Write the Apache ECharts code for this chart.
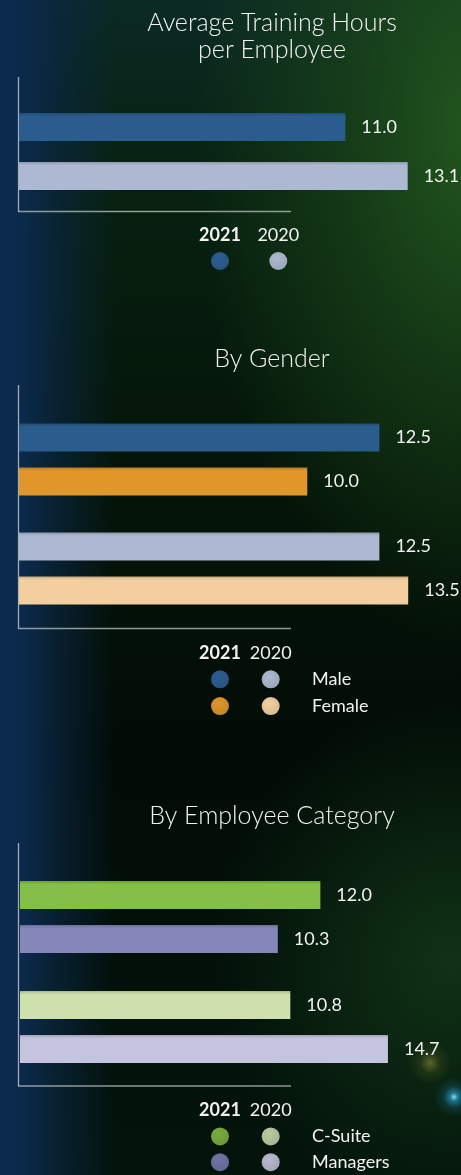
<!DOCTYPE html>
<html>
<head>
<meta charset="utf-8">
<script src="https://cdn.jsdelivr.net/npm/echarts@6/dist/echarts.min.js"></script>
<style>
html, body { margin: 0; padding: 0; }
body {
  width: 461px; height: 1175px; overflow: hidden;
  background:
    radial-gradient(circle at 454px 1097px, rgba(140,235,255,0.95) 0px, rgba(40,170,225,0.6) 4px, rgba(30,140,200,0.18) 11px, rgba(30,140,200,0) 20px),
    radial-gradient(circle at 430px 1063px, rgba(190,175,70,0.45) 0px, rgba(150,140,50,0.15) 10px, rgba(150,140,50,0) 22px),
    linear-gradient(to right, #0b2b4d 0px, #0b2a4b 22px, rgba(10,38,66,0.65) 60px, rgba(8,30,50,0) 115px),
    radial-gradient(ellipse 280px 520px at 475px 130px, rgba(34,86,30,1) 0%, rgba(28,72,26,0.65) 45%, rgba(20,50,20,0) 100%),
    radial-gradient(ellipse 240px 260px at 450px 960px, rgba(22,64,28,0.7), rgba(22,64,28,0) 100%),
    linear-gradient(to bottom, #0b2a24 0px, #072010 200px, #041408 500px, #020c06 750px, #03140b 1175px);
}
#chart { width: 461px; height: 1175px; }
</style>
</head>
<body>
<div id="chart"></div>
<script>
// ---- data ----
const years = ['2021', '2020'];
const avgHours = [11.0, 13.1];            // 2021, 2020
const genders = ['Male', 'Female'];
const maleHours = [12.5, 12.5];           // 2021, 2020
const femaleHours = [10.0, 13.5];         // 2021, 2020
const empCategories = ['C-Suite', 'Managers'];
const csuiteHours = [12.0, 10.8];         // 2021, 2020
const managerHours = [10.3, 14.7];        // 2021, 2020
const titles = ['Average Training Hours\nper Employee', 'By Gender', 'By Employee Category'];

// ---- colours ----
const avgColors = ['#2a5c8e', '#adb9d3'];
const maleColors = ['#2a5c8e', '#adb9d3'];
const femaleColors = ['#e1962a', '#f3cf9f'];
const csuiteColors = ['#84bf47', '#cde0ae'];
const managerColors = ['#8587b9', '#c5c4de'];
const dotMale = ['#2d5e92', '#aeb9d2'];
const dotFemale = ['#e0962b', '#f2d1a2'];
const dotCsuite = ['#77ac3f', '#b9cb9f'];
const dotManager = ['#7174a5', '#b9b8d1'];

const FONT = 'Lato';
const TXT = '#f2f2f2';

function shade(hex, f) {
  const n = parseInt(hex.slice(1), 16);
  let r = (n >> 16) & 255, g = (n >> 8) & 255, b = n & 255;
  r = Math.round(r * f); g = Math.round(g * f); b = Math.round(b * f);
  return 'rgb(' + r + ',' + g + ',' + b + ')';
}
function barFill(c) {
  return {
    type: 'linear', x: 0, y: 0, x2: 0, y2: 1,
    colorStops: [
      { offset: 0, color: shade(c, 0.82) },
      { offset: 0.12, color: c },
      { offset: 1, color: c }
    ]
  };
}
function dotFill(c) {
  return {
    type: 'radial', x: 0.4, y: 0.35, r: 0.75,
    colorStops: [
      { offset: 0, color: c },
      { offset: 1, color: shade(c, 0.88) }
    ]
  };
}
function barData(values, colors) {
  return values.map((v, i) => ({ value: v, itemStyle: { color: barFill(colors[i]) } }));
}
const valueLabel = {
  show: true, position: 'right', distance: 16,
  color: TXT, fontSize: 18, fontFamily: FONT,
  formatter: p => Number(p.value).toFixed(1)
};

// bar grids (px per unit: 29.67, 28.83, 25.03)
const barMax = [14, 14, 16];
const pxPerUnit = [29.67, 28.83, 25.03];
const barGrids = [
  { left: 19, top: 102.5, height: 98 },
  { left: 19, top: 405, height: 218 },
  { left: 20, top: 862, height: 220 }
].map((g, i) => Object.assign(g, { width: barMax[i] * pxPerUnit[i] }));
// legend grids
const legGrids = [
  { left: 190.85, top: 248, width: 116.6, height: 26 },
  { left: 194.65, top: 666, width: 101.4, height: 53.4 },
  { left: 194.65, top: 1123.5, width: 101.4, height: 52.6 }
];

const grid = barGrids.concat(legGrids);

const xAxis = [];
const yAxis = [];
barGrids.forEach((g, i) => {
  xAxis.push({ type: 'value', gridIndex: i, min: 0, max: barMax[i], show: false });
  yAxis.push({ type: 'category', gridIndex: i, data: years, inverse: true, show: false });
});
const legendRows = [[''], genders, empCategories];
legGrids.forEach((g, i) => {
  xAxis.push({
    type: 'category', gridIndex: 3 + i, position: 'top',
    data: years.map((y, k) => k === 0 ? { value: y, textStyle: { fontWeight: 'bold' } } : y),
    axisLine: { show: false }, axisTick: { show: false }, splitLine: { show: false },
    axisLabel: { color: TXT, fontSize: 18, fontFamily: FONT, margin: 4, interval: 0, hideOverlap: false }
  });
  yAxis.push({
    type: 'category', gridIndex: 3 + i, position: 'right', inverse: true,
    data: legendRows[i],
    axisLine: { show: false }, axisTick: { show: false }, splitLine: { show: false },
    axisLabel: { show: i > 0, color: TXT, fontSize: 18, fontFamily: FONT, margin: 16, align: 'left', interval: 0 }
  });
});

function dotSeries(idx, rowColors) {
  const data = [];
  rowColors.forEach((cols, r) => {
    cols.forEach((c, k) => {
      data.push({ value: [k, r], itemStyle: { color: dotFill(c), opacity: 1 } });
    });
  });
  return {
    type: 'scatter', xAxisIndex: 3 + idx, yAxisIndex: 3 + idx,
    symbol: 'circle', symbolSize: 18, data: data, silent: true,
    itemStyle: { opacity: 1 }
  };
}

const series = [
  { type: 'bar', xAxisIndex: 0, yAxisIndex: 0, barWidth: 28,
    data: barData(avgHours, avgColors), label: valueLabel },
  { type: 'bar', name: 'Male', xAxisIndex: 1, yAxisIndex: 1, barWidth: 28, barGap: '57%',
    data: barData(maleHours, maleColors), label: valueLabel },
  { type: 'bar', name: 'Female', xAxisIndex: 1, yAxisIndex: 1, barWidth: 28, barGap: '57%',
    data: barData(femaleHours, femaleColors), label: valueLabel },
  { type: 'bar', name: 'C-Suite', xAxisIndex: 2, yAxisIndex: 2, barWidth: 28, barGap: '57%',
    data: barData(csuiteHours, csuiteColors), label: valueLabel },
  { type: 'bar', name: 'Managers', xAxisIndex: 2, yAxisIndex: 2, barWidth: 28, barGap: '57%',
    data: barData(managerHours, managerColors), label: valueLabel },
  dotSeries(0, [dotMale]),
  dotSeries(1, [dotMale, dotFemale]),
  dotSeries(2, [dotCsuite, dotManager])
];

const titleTops = [8.75, 344.75, 801.75];
const title = titles.map((t, i) => ({
  text: t, left: 272, top: titleTops[i], textAlign: 'center', padding: 0,
  textStyle: { color: TXT, fontSize: 25, fontWeight: 300, fontFamily: FONT, lineHeight: 27.5 }
}));

// decorative axis frames
const frames = [
  { x: 18.5, top: 77, bottom: 211.5, right: 291 },
  { x: 18.5, top: 385, bottom: 628.5, right: 291 },
  { x: 18.5, top: 843, bottom: 1086, right: 291 }
];
const graphicEls = [];
frames.forEach(f => {
  graphicEls.push({ type: 'line', silent: true,
    shape: { x1: f.x, y1: f.top, x2: f.x, y2: f.bottom },
    style: { stroke: 'rgba(200,205,210,0.8)', lineWidth: 1.3 } });
  graphicEls.push({ type: 'line', silent: true,
    shape: { x1: f.x - 0.6, y1: f.bottom, x2: f.right, y2: f.bottom },
    style: { stroke: 'rgba(190,195,195,0.75)', lineWidth: 1.5 } });
});

const chart = echarts.init(document.getElementById('chart'), null, { renderer: 'canvas' });
chart.setOption({
  backgroundColor: 'transparent',
  animation: false,
  title: title,
  grid: grid,
  xAxis: xAxis,
  yAxis: yAxis,
  series: series,
  graphic: { elements: graphicEls }
});
</script>
</body>
</html>
